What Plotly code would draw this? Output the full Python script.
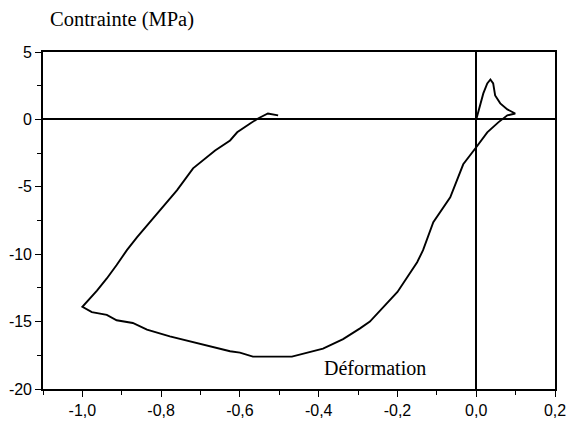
import plotly.graph_objects as go

# Stress-strain loop: strain (%) and stress (MPa), in drawing order
strain = [0.0, 0.008, 0.018, 0.028, 0.036, 0.043, 0.048, 0.061, 0.079, 0.099,
          0.079, 0.056, 0.028, 0.0, -0.033, -0.066, -0.109, -0.135, -0.15,
          -0.2, -0.226, -0.27, -0.295, -0.338, -0.389, -0.43, -0.468, -0.567,
          -0.6, -0.625, -0.694, -0.735, -0.778, -0.836, -0.872, -0.913, -0.938,
          -0.976, -1.0, -0.963, -0.938, -0.913, -0.887, -0.861, -0.803, -0.76,
          -0.719, -0.701, -0.663, -0.625, -0.607, -0.574, -0.554, -0.529, -0.503]
stress = [0.0, 0.89, 1.93, 2.67, 2.96, 2.67, 1.78, 1.19, 0.74, 0.44,
          0.30, -0.22, -0.96, -2.07, -3.33, -5.78, -7.63, -9.7, -10.6,
          -12.8, -13.6, -15.0, -15.5, -16.3, -17.0, -17.3, -17.6, -17.6,
          -17.3, -17.2, -16.7, -16.4, -16.1, -15.6, -15.1, -14.9, -14.5,
          -14.3, -13.9, -12.7, -11.8, -10.8, -9.7, -8.74, -6.74, -5.26,
          -3.63, -3.2, -2.3, -1.56, -0.96, -0.3, 0.07, 0.44, 0.3]

x_tickvals = [-1.0, -0.8, -0.6, -0.4, -0.2, 0.0, 0.2]
x_ticktext = ["-1,0", "-0,8", "-0,6", "-0,4", "-0,2", "0,0", "0,2"]
y_tickvals = [-20, -15, -10, -5, 0, 5]
y_ticktext = ["-20", "-15", "-10", "-5", "0", "5"]

fig = go.Figure()
fig.add_trace(go.Scatter(x=strain, y=stress, mode="lines",
                         line=dict(color="black", width=1.9),
                         showlegend=False, hoverinfo="skip"))

axis_common = dict(
    automargin=False,
    showgrid=False, showline=True, linecolor="black", linewidth=1.6,
    mirror=True, ticks="outside", ticklen=6, tickwidth=1.3, tickcolor="black",
    zeroline=True, zerolinecolor="black", zerolinewidth=1.6,
    tickfont=dict(family="Liberation Sans, Arial", size=16, color="black"),
)

fig.update_xaxes(range=[-1.1, 0.2], tickmode="array", tickvals=x_tickvals,
                 ticktext=x_ticktext,
                 minor=dict(ticks="outside", ticklen=4, dtick=0.1, tick0=0,
                            tickcolor="black", tickwidth=1.3),
                 **axis_common)
fig.update_yaxes(range=[-20, 5], tickmode="array", tickvals=y_tickvals,
                 ticktext=y_ticktext,
                 minor=dict(ticks="outside", ticklen=4, dtick=2.5, tick0=0,
                            tickcolor="black", tickwidth=1.3),
                 **axis_common)

fig.add_annotation(text="Contrainte (MPa)", xref="paper", yref="paper",
                   x=0.010, y=1.095, xanchor="left", yanchor="middle",
                   showarrow=False,
                   font=dict(family="Liberation Serif, Times New Roman", size=20.5, color="black"))
fig.add_annotation(text="Déformation", xref="x", yref="y",
                   x=-0.257, y=-18.45, xanchor="center", yanchor="middle",
                   showarrow=False,
                   font=dict(family="Liberation Serif, Times New Roman", size=20, color="black"))

fig.update_layout(width=567, height=421,
                  margin=dict(l=43, r=12, t=52, b=32),
                  paper_bgcolor="white", plot_bgcolor="white")

fig.write_html("out.html")
